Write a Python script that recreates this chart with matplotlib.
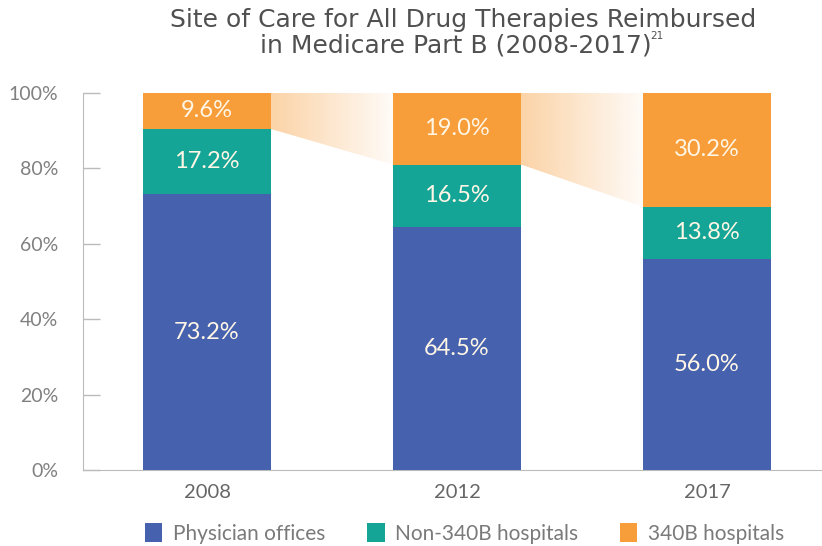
import numpy as np
import matplotlib
matplotlib.use('Agg')
import matplotlib.pyplot as plt
from matplotlib.patches import Polygon, Patch

# Data
years = ['2008', '2012', '2017']
physician = [73.2, 64.5, 56.0]
non340b = [17.2, 16.5, 13.8]
hosp340b = [9.6, 19.0, 30.2]
series_names = ['Physician offices', 'Non-340B hospitals', '340B hospitals']
colors = ['#4662AE', '#14A596', '#F79D3A']

plt.rcParams['font.family'] = ['Lato', 'DejaVu Sans']

fig = plt.figure(figsize=(8.22, 5.46), dpi=100)
ax = fig.add_axes([0.101, 0.139, 0.899, 0.691])

x = np.arange(len(years))
width = 0.512
phys = np.array(physician)
non = np.array(non340b)
b340 = np.array(hosp340b)

ax.bar(x, phys, width, color=colors[0], zorder=3)
ax.bar(x, non, width, bottom=phys, color=colors[1], zorder=3)
ax.bar(x, b340, width, bottom=phys + non, color=colors[2], zorder=3)

# segment labels
lab_col = '#FFF6E6'
for i in range(len(years)):
    ax.text(x[i], phys[i] / 2, f'{phys[i]:.1f}%', ha='center', va='center',
            fontsize=17, color=lab_col, zorder=4)
    ax.text(x[i], phys[i] + non[i] / 2, f'{non[i]:.1f}%', ha='center', va='center',
            fontsize=17, color=lab_col, zorder=4)
    ax.text(x[i], phys[i] + non[i] + b340[i] / 2, f'{b340[i]:.1f}%', ha='center',
            va='center', fontsize=17, color=lab_col, zorder=4)

# gradient connectors showing growth of 340B share
grad = np.linspace(0.45, 0.04, 256).reshape(1, -1)
rgba = np.zeros((1, 256, 4))
rgba[..., :3] = matplotlib.colors.to_rgb(colors[2])
rgba[..., 3] = grad
tops = phys + non + b340
mids = phys + non
for i in range(len(years) - 1):
    x0 = x[i] + width / 2
    x1 = x[i + 1] - width / 2
    poly = Polygon([(x0, tops[i]), (x1, tops[i + 1]), (x1, mids[i + 1]), (x0, mids[i])],
                   closed=True, facecolor='none', edgecolor='none')
    ax.add_patch(poly)
    im = ax.imshow(rgba, extent=(x0, x1, min(mids) - 1, 100), aspect='auto',
                   interpolation='bilinear', zorder=2)
    im.set_clip_path(poly)

ax.set_xlim(-0.496, 2.46)
ax.set_ylim(0, 100)
ax.set_xticks(x)
ax.set_xticklabels(years, fontsize=14.5, color='#666666')
ax.set_yticks(np.arange(0, 101, 20))
ax.set_yticklabels([f'{v}%' for v in range(0, 101, 20)], fontsize=14, color='#808080')
ax.tick_params(axis='y', direction='in', length=12.5, width=1, color='#bbbbbb', pad=18)
ax.tick_params(axis='x', length=0, pad=10)
for s in ['top', 'right']:
    ax.spines[s].set_visible(False)
ax.spines['left'].set_color('#bbbbbb')
ax.spines['bottom'].set_color('#bbbbbb')

tfam = ['DejaVu Sans']
fig.text(0.563, 0.963, 'Site of Care for All Drug Therapies Reimbursed',
         ha='center', va='center', fontsize=18, color='#505050', family=tfam)
t2 = fig.text(0.554, 0.916, 'in Medicare Part B (2008-2017)',
              ha='center', va='center', fontsize=18, color='#505050', family=tfam)
fig.canvas.draw()
bb = t2.get_window_extent().transformed(fig.transFigure.inverted())
fig.text(bb.x1 - 0.001, 0.934, '21', ha='left', va='center', fontsize=7.5,
         color='#505050', family=tfam)

handles = [Patch(facecolor=c, edgecolor='none') for c in colors]
fig.legend(handles, series_names, loc='lower center', bbox_to_anchor=(0.565, -0.03),
           ncol=3, frameon=False, fontsize=15, labelcolor='#7a7a7a',
           handlelength=0.85, handleheight=1.0, handletextpad=0.5, columnspacing=2.0)

fig.savefig('out.png', dpi=100)
